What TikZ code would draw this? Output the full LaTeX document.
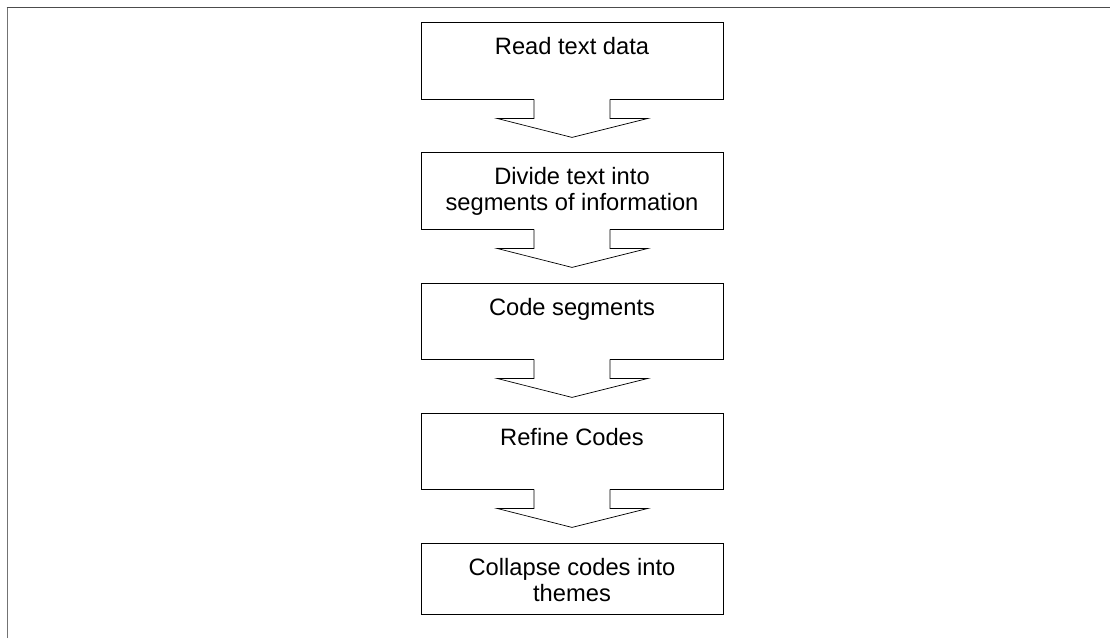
\documentclass[tikz,border=0pt]{standalone}
\usepackage{fontspec}
\setmainfont{Liberation Sans}
\usetikzlibrary{calc}
\newcommand\flowtxt[2]{\parbox[c][#1pt][t]{302pt}{\centering\fontsize{23.7}{26}\selectfont\rule{0pt}{32pt}#2\par}}
\newcommand\flowarrow[1]{%
  \fill[white] ($(#1.south)+(-37.6,-1.2)$) rectangle ($(#1.south)+(37.6,1)$);
  \draw[arrline] ($(#1.south)+(-38,0)$) -- ++(0,19) -- ++(-37,0) -- ($(#1.south)+(0,38)$)
     -- ($(#1.south)+(76,19)$) -- ++(-38,0) -- ++(0,-19);}
\begin{document}
\begin{tikzpicture}[x=1pt,y=-1pt,
  flowbox/.style={draw=black, line width=0.8pt, inner sep=0pt, fill=white},
  arrline/.style={draw=black, line width=0.7pt, line join=miter},
  framebar/.style={line width=1.6pt}]
\useasboundingbox (0,0) rectangle (1110,638);
\draw[framebar, draw=black!55] (7.5,638) -- (7.5,7.5);
\draw[framebar, draw=black!70] (6.7,7.5) -- (1110,7.5);
\node[flowbox] (b1) at (572,60.5) {\flowtxt{77}{Read text data}};
\node[flowbox] (b2) at (572,190.5) {\flowtxt{77}{Divide text into\\segments of information}};
\node[flowbox] (b3) at (572,321) {\flowtxt{76}{Code segments}};
\node[flowbox] (b4) at (572,451) {\flowtxt{76}{Refine Codes}};
\node[flowbox] (b5) at (572,578.5) {\flowtxt{71}{Collapse codes into\\themes}};
\flowarrow{b1}
\flowarrow{b2}
\flowarrow{b3}
\flowarrow{b4}
\end{tikzpicture}
\end{document}
